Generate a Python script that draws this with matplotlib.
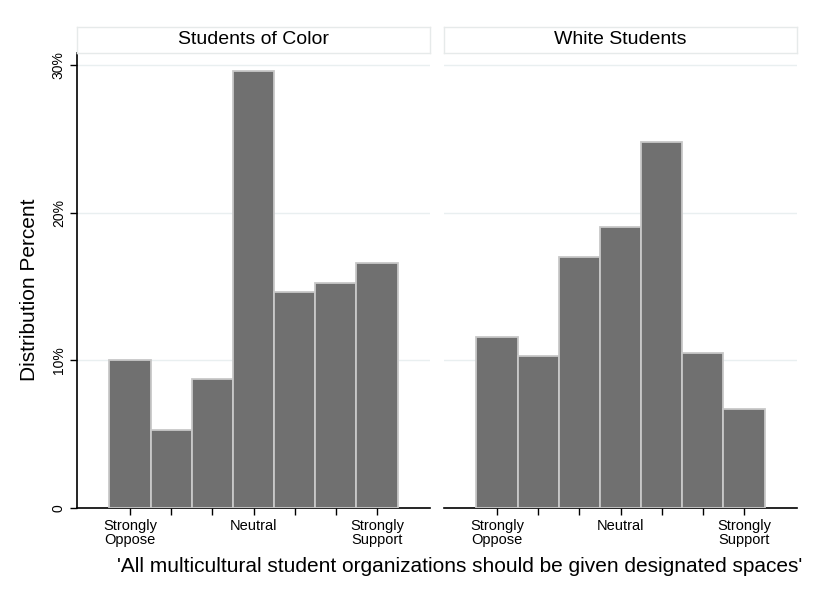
import matplotlib
matplotlib.use("Agg")
import matplotlib.pyplot as plt
import numpy as np

plt.rcParams['font.family'] = ['Liberation Sans', 'DejaVu Sans']

panels = ["Students of Color", "White Students"]
positions = [1, 2, 3, 4, 5, 6, 7]
color_vals = [10.0, 5.3, 8.7, 29.6, 14.6, 15.2, 16.6]
white_vals = [11.6, 10.3, 17.0, 19.0, 24.8, 10.5, 6.7]
tick_labels = ["Strongly\nOppose", "", "", "Neutral", "", "", "Strongly\nSupport"]
yticks = [0, 10, 20, 30]
ytick_labels = ["0", "10%", "20%", "30%"]

fig = plt.figure(figsize=(8.25, 6), dpi=100)
W, H = 825, 600
def fr(x0, y0, x1, y1):
    return [x0 / W, 1 - y1 / H, (x1 - x0) / W, (y1 - y0) / H]

lefts = [77, 444]
data = [color_vals, white_vals]
for i in range(2):
    x0 = lefts[i]
    x1 = x0 + 353
    ax = fig.add_axes(fr(x0, 53, x1, 508))
    ax.bar(positions, data[i], width=1.0, color="#707070", edgecolor="#c8c8c8", linewidth=1.3, zorder=3)
    ax.set_xlim(-0.286, 8.286)
    ax.set_ylim(0, 30.8)
    ax.set_yticks(yticks)
    for y in [10, 20, 30]:
        ax.axhline(y, color="#e9eff0", lw=1.0, zorder=1)
    ax.set_xticks(positions)
    ax.set_xticklabels(tick_labels, fontsize=10.5, linespacing=1.0)
    ax.tick_params(axis='x', length=5, width=1, color="black", pad=3)
    for s in ['top', 'right']:
        ax.spines[s].set_visible(False)
    ax.spines['bottom'].set_linewidth(1.2)
    if i == 0:
        ax.set_yticklabels(ytick_labels, rotation=90, va='center', fontsize=10)
        ax.tick_params(axis='y', length=5, width=1, pad=3)
        ax.spines['left'].set_linewidth(1.2)
        ax.set_ylabel("Distribution Percent", fontsize=15)
        ax.yaxis.set_label_coords((39 - x0) / 353, (508 - 290) / 455)
    else:
        ax.spines['left'].set_visible(False)
        ax.set_yticks([])
    # strip
    sax = fig.add_axes(fr(x0, 27, x1, 53))
    sax.set_xticks([]); sax.set_yticks([])
    for s in sax.spines.values():
        s.set_color("#e6eaea")
        s.set_linewidth(1)
    sax.text(0.5, 0.5, panels[i], ha='center', va='center', fontsize=14, transform=sax.transAxes)

fig.text(460 / W, 1 - 567 / H, "'All multicultural student organizations should be given designated spaces'",
         ha='center', va='center', fontsize=15)

fig.savefig("out.png", dpi=100)
